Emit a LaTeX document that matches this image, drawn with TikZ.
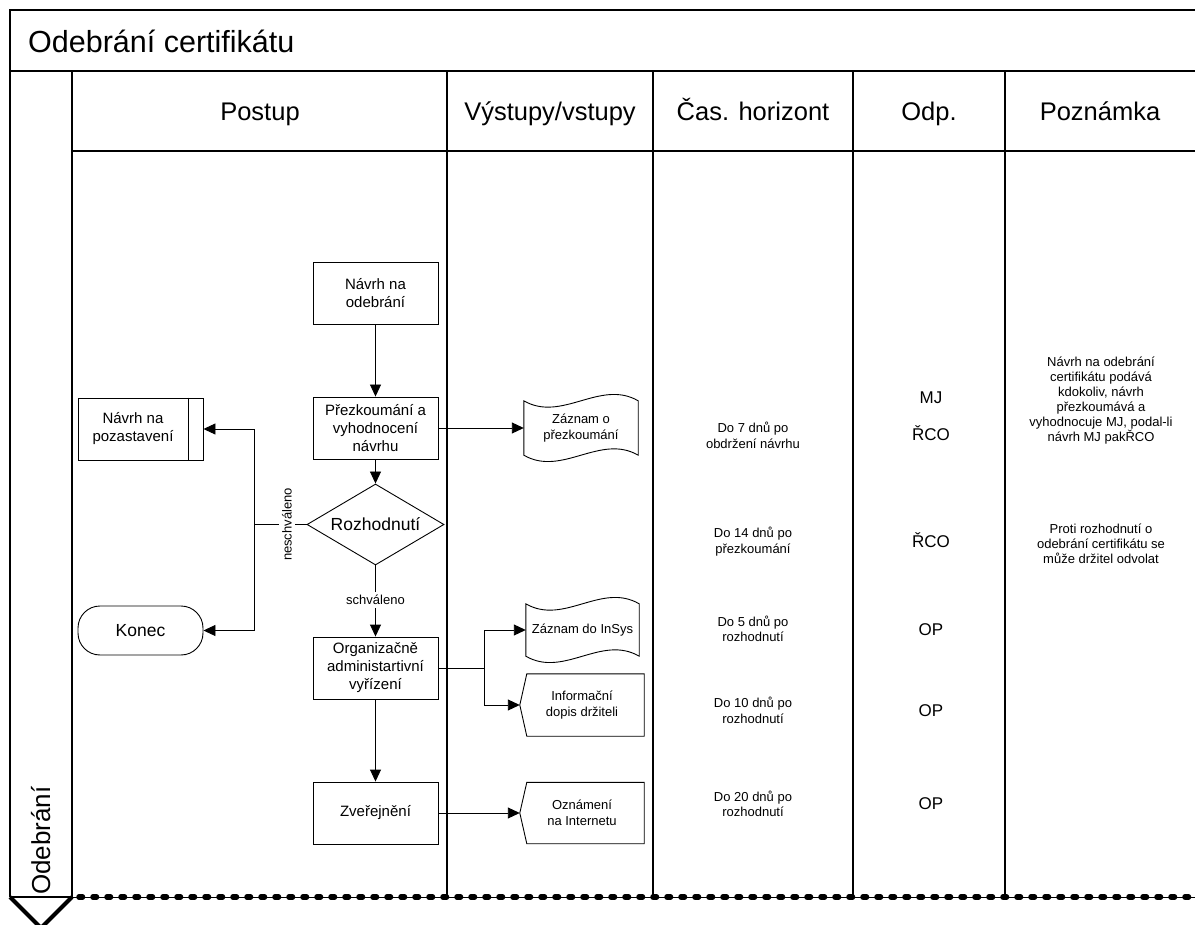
\documentclass[tikz,border=0pt]{standalone}
\usepackage{fontspec}
\setmainfont{Liberation Sans}
\usetikzlibrary{arrows.meta,shapes.geometric,calc}

% outline of a paper-tape (wavy) document node
\newcommand\tapeoutline[1]{%
  \draw[boxline] (#1.north west) .. controls +(38,22) and +(-38,-22) .. (#1.north east)
    -- (#1.south east) .. controls +(-38,-22) and +(38,22) .. (#1.south west) -- cycle;}
% outline of an off-page (pointed left side) node
\newcommand\letteroutline[1]{%
  \draw[boxline] (#1.west) -- ($(#1.north west)+(7,0)$) -- (#1.north east)
    -- (#1.south east) -- ($(#1.south west)+(7,0)$) -- cycle;}

\begin{document}
\begin{tikzpicture}[x=1pt,y=-1pt,
  frame/.style={line width=1.1pt},
  boxline/.style={line width=0.9pt},
  conn/.style={line width=0.9pt},
  arr/.style={conn,-{Triangle[length=12pt,width=11pt]}},
  flowbox/.style={draw,boxline,minimum width=125pt,minimum height=62pt,inner sep=0pt,
    align=center,font=\fontsize{15}{18}\selectfont},
  decision/.style={draw,boxline,diamond,aspect=1.69,minimum width=137pt,minimum height=81pt,
    inner sep=0pt,font=\fontsize{17.5}{20}\selectfont},
  terminal/.style={draw,boxline,rounded corners=22pt,minimum width=125pt,minimum height=49pt,
    inner sep=0pt,font=\fontsize{17.5}{20}\selectfont},
  docnode/.style={inner sep=0pt,align=center,font=\fontsize{13}{15.5}\selectfont},
  small/.style={inner sep=0pt,align=center,font=\fontsize{13}{15.5}\selectfont},
  odp/.style={inner sep=0pt,anchor=base,font=\fontsize{17}{20}\selectfont},
  hdr/.style={inner sep=0pt,anchor=base,font=\fontsize{25.5}{30}\selectfont},
  lbl/.style={inner sep=3pt,fill=white,font=\fontsize{13}{15}\selectfont}
]
\useasboundingbox (0,0) rectangle (1195,925);
\clip (0,0) rectangle (1195,925);

% frame and swimlane grid
\draw[frame] (1195,10) -- (10,10) -- (10,897);
\draw[frame] (10,71) -- (1195,71);
\draw[frame] (72,151) -- (1195,151);
\foreach \x in {72,447,653,853,1005} \draw[frame] (\x,71) -- (\x,897);
\draw[frame] (10,897) -- (72,897);
\draw[line width=1pt] (72,897) -- (1195,897);
\draw[line width=5.5pt,line cap=round,dash pattern=on 3.5pt off 10.5pt] (79,897) -- (1195,897);
\draw[line width=4pt,line join=miter] (10,897) -- (41,928) -- (72,897);

% titles
\node[anchor=base west,inner sep=0pt,font=\fontsize{30.5}{36}\selectfont] (title) at (28,53) {Odebrání certifikátu};
\node[hdr] (hpostup) at (260,121) {Postup};
\node[hdr] (hvystupy) at (550,121) {Výstupy/vstupy};
\node[hdr] (hcas) at (753,121) {Čas. horizont};
\node[hdr] (hodp) at (929,121) {Odp.};
\node[hdr] (hpozn) at (1100,121) {Poznámka};
\node[hdr,rotate=90,anchor=base west,font=\fontsize{26}{30}\selectfont] (lane) at (50,895) {Odebrání};

% process steps
\node[flowbox] (odebrani) at (375.5,293.5) {Návrh na\\odebrání};
\node[flowbox] (prezk) at (375.5,428) {Přezkoumání a\\vyhodnocení\\návrhu};
\node[decision] (rozh) at (375.5,524.5) {Rozhodnutí};
\node[flowbox] (org) at (375.5,668) {Organizačně\\administartivní\\vyřízení};
\node[flowbox] (zver) at (375.5,813) {Zveřejnění};
\node[flowbox] (pozast) at (140.5,429)
  {\parbox{110pt}{\centering Návrh na\\pozastavení}\hspace{15pt}};
\draw[boxline] ($(pozast.north east)+(-15,0)$) -- ($(pozast.south east)+(-15,0)$);
\node[terminal] (konec) at (140.5,630.5) {Konec};

% outputs
\node[docnode,minimum width=114pt,minimum height=54pt] (zprez) at (581,428) {Záznam o\\přezkoumání};
\tapeoutline{zprez}
\node[docnode,minimum width=113pt,minimum height=52pt] (zinsys) at (582.5,630) {Záznam do InSys};
\tapeoutline{zinsys}
\node[docnode,minimum width=124pt,minimum height=62pt] (dopis) at (582,705) {Informační\\dopis držiteli};
\letteroutline{dopis}
\node[docnode,minimum width=124pt,minimum height=61pt] (ozn) at (582,813) {Oznámení\\na Internetu};
\letteroutline{ozn}

% connectors
\draw[arr] (odebrani) -- (prezk);
\draw[arr] (prezk) -- (rozh);
\draw[arr] (prezk.east) -- (zprez.west);
\coordinate (jn) at (254,524.5);
\draw[conn] (rozh.west) -- (jn);
\draw[arr] (jn) |- (pozast.east);
\draw[arr] (jn) |- (konec.east);
\node[lbl,rotate=90] (nesch) at (287,524.5) {neschváleno};
\draw[arr] (rozh.south) -- (org.north);
\node[lbl] (schv) at (375.5,600) {schváleno};
\coordinate (jn2) at (484,668);
\draw[conn] (org.east) -- (jn2);
\draw[arr] (jn2) |- (zinsys.west);
\draw[arr] (jn2) |- (dopis.west);
\draw[arr] (org) -- (zver);
\draw[arr] (zver.east) -- (ozn.west);

% time limits
\node[small] (t1) at (753,435.5) {Do 7 dnů po\\obdržení návrhu};
\node[small] (t2) at (753,541.5) {Do 14 dnů po\\přezkoumání};
\node[small] (t3) at (753,629) {Do 5 dnů po\\rozhodnutí};
\node[small] (t4) at (753,710.5) {Do 10 dnů po\\rozhodnutí};
\node[small] (t5) at (753,804) {Do 20 dnů po\\rozhodnutí};

% responsibilities
\node[odp] (r1) at (931,404) {MJ};
\node[odp] (r2) at (931,441) {ŘCO};
\node[odp] (r3) at (931,547.5) {ŘCO};
\node[odp] (r4) at (931,635) {OP};
\node[odp] (r5) at (931,716) {OP};
\node[odp] (r6) at (931,809) {OP};

% notes
\node[small,font=\fontsize{13}{15}\selectfont] (n1) at (1101,401)
  {Návrh na odebrání\\certifikátu podává\\kdokoliv, návrh\\přezkoumává a\\vyhodnocuje MJ, podal-li\\návrh MJ pakŘCO};
\node[small,font=\fontsize{13}{15}\selectfont] (n2) at (1101,544)
  {Proti rozhodnutí o\\odebrání certifikátu se\\může držitel odvolat};
\end{tikzpicture}
\end{document}
